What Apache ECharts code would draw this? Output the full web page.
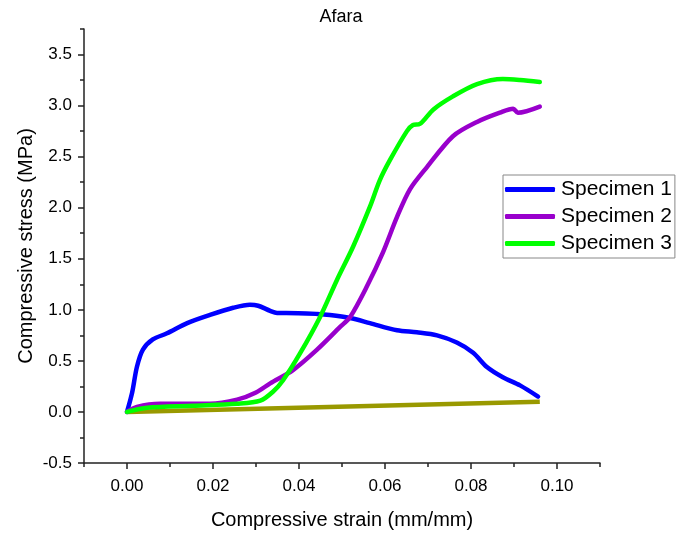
<!DOCTYPE html>
<html>
<head>
<meta charset="utf-8">
<script src="https://cdn.jsdelivr.net/npm/echarts@6/dist/echarts.min.js"></script>
<style>html,body{margin:0;padding:0;background:#fff}#c{width:682px;height:537px}</style>
</head>
<body>
<div id="c"></div>
<script>
var titleText = 'Afara';
var xName = 'Compressive strain (mm/mm)';
var yName = 'Compressive stress (MPa)';
var seriesNames = ['Specimen 1', 'Specimen 2', 'Specimen 3'];
var xMajorTicks = [0, 0.02, 0.04, 0.06, 0.08, 0.10];
var xMinorTicks = [-0.01, 0.01, 0.03, 0.05, 0.07, 0.09, 0.11];
var yMajorTicks = [-0.5, 0, 0.5, 1.0, 1.5, 2.0, 2.5, 3.0, 3.5];
var yMinorTicks = [-0.25, 0.25, 0.75, 1.25, 1.75, 2.25, 2.75, 3.25, 3.75];

var s1x = [0, 0.0012, 0.0023, 0.0037, 0.006, 0.0093, 0.014, 0.0193, 0.0247, 0.0286, 0.0305, 0.0333, 0.0349, 0.037, 0.0442, 0.0472, 0.0519, 0.0565, 0.0628, 0.0674, 0.0721, 0.0767, 0.0805, 0.0837, 0.0874, 0.0914, 0.0956];
var s1y = [0, 0.19, 0.44, 0.61, 0.71, 0.77, 0.87, 0.95, 1.02, 1.05, 1.04, 0.99, 0.97, 0.97, 0.96, 0.95, 0.92, 0.87, 0.80, 0.78, 0.75, 0.68, 0.58, 0.44, 0.34, 0.26, 0.15];

var s2x = [0, 0.0023, 0.0077, 0.0193, 0.0256, 0.030, 0.0333, 0.0386, 0.0442, 0.0495, 0.0519, 0.0558, 0.0595, 0.0628, 0.0658, 0.0698, 0.0758, 0.0814, 0.0867, 0.0898, 0.0909, 0.096];
var s2y = [0, 0.05, 0.08, 0.08, 0.12, 0.19, 0.28, 0.41, 0.61, 0.83, 0.93, 1.23, 1.56, 1.91, 2.18, 2.40, 2.70, 2.84, 2.93, 2.97, 2.93, 2.99];

var s3x = [0, 0.0047, 0.0153, 0.0256, 0.031, 0.034, 0.0363, 0.0402, 0.0449, 0.0488, 0.0526, 0.0565, 0.0588, 0.0612, 0.0651, 0.0665, 0.0681, 0.0712, 0.0758, 0.0814, 0.0874, 0.0914, 0.096];
var s3y = [0, 0.04, 0.06, 0.08, 0.11, 0.20, 0.31, 0.57, 0.93, 1.29, 1.62, 2.01, 2.27, 2.47, 2.75, 2.81, 2.82, 2.96, 3.09, 3.21, 3.26, 3.25, 3.23];

var baseX = [0, 0.096];
var baseY = [0, 0.10];

var colors = ['#0000ff', '#9900cc', '#00ff00'];
var baseColor = '#999900';

function pairs(xs, ys) { return xs.map(function (x, i) { return [x, ys[i]]; }); }

var FONT = 'Liberation Sans, Arial, sans-serif';
var chart = echarts.init(document.getElementById('c'), null, {renderer: 'canvas'});
var grid = {left: 84, right: 82, top: 29, bottom: 74, containLabel: false};
var tickStyle = {color: '#222', width: 1.5};

var option = {
  animation: false,
  backgroundColor: '#fff',
  title: {text: titleText, left: 'center', top: 3, textStyle: {fontFamily: FONT, fontSize: 18, fontWeight: 'normal', color: '#000'}},
  legend: {
    data: seriesNames.map(function (n) { return {name: n, icon: 'roundRect'}; }),
    orient: 'vertical', left: 503, top: 175,
    itemWidth: 50, itemHeight: 5, itemGap: 6,
    borderColor: '#888', borderWidth: 1, padding: [4, 3, 4, 2],
    textStyle: {fontFamily: FONT, fontSize: 21, color: '#000', padding: [0, 0, 0, 1]}
  },
  grid: grid,
  xAxis: [{
    type: 'value', min: -0.01, max: 0.11,
    name: xName, nameLocation: 'middle', nameGap: 47,
    nameTextStyle: {fontFamily: FONT, fontSize: 20, color: '#000'},
    axisLine: {show: true, onZero: false, lineStyle: tickStyle},
    axisTick: {show: true, inside: false, length: 6, customValues: xMajorTicks, lineStyle: tickStyle},
    axisLabel: {customValues: xMajorTicks, margin: 15, fontFamily: FONT, fontSize: 17, color: '#000',
      formatter: function (v) { return v.toFixed(2); }},
    splitLine: {show: false}
  }, {
    type: 'value', min: -0.01, max: 0.11, position: 'bottom',
    axisLine: {show: false, onZero: false},
    axisTick: {show: true, length: 4, customValues: xMinorTicks, lineStyle: tickStyle},
    axisLabel: {show: false}, splitLine: {show: false}
  }],
  yAxis: [{
    type: 'value', min: -0.5, max: 3.75,
    name: yName, nameLocation: 'middle', nameGap: 48, nameMoveOverlap: false,
    nameTextStyle: {fontFamily: FONT, fontSize: 20, color: '#000'},
    axisLine: {show: true, onZero: false, lineStyle: tickStyle},
    axisTick: {show: true, length: 6, customValues: yMajorTicks, lineStyle: tickStyle},
    axisLabel: {customValues: yMajorTicks, margin: 12, fontFamily: FONT, fontSize: 17, color: '#000',
      formatter: function (v) { return v.toFixed(1); }},
    splitLine: {show: false}
  }, {
    type: 'value', min: -0.5, max: 3.75, position: 'left',
    axisLine: {show: false, onZero: false},
    axisTick: {show: true, length: 4, customValues: yMinorTicks, lineStyle: tickStyle},
    axisLabel: {show: false}, splitLine: {show: false}
  }],
  series: [
    {name: 'base', type: 'line', data: pairs(baseX, baseY), showSymbol: false, symbol: 'none',
      lineStyle: {color: baseColor, width: 4.5}, itemStyle: {color: baseColor}, z: 1},
    {name: seriesNames[0], type: 'line', data: pairs(s1x, s1y), smooth: 0.3, symbol: 'none',
      lineStyle: {color: colors[0], width: 4.5, cap: 'round', join: 'round'}, itemStyle: {color: colors[0]}, z: 2},
    {name: seriesNames[1], type: 'line', data: pairs(s2x, s2y), smooth: 0.3, symbol: 'none',
      lineStyle: {color: colors[1], width: 4.5, cap: 'round', join: 'round'}, itemStyle: {color: colors[1]}, z: 3},
    {name: seriesNames[2], type: 'line', data: pairs(s3x, s3y), smooth: 0.3, symbol: 'none',
      lineStyle: {color: colors[2], width: 4.5, cap: 'round', join: 'round'}, itemStyle: {color: colors[2]}, z: 4}
  ]
};
chart.setOption(option);
</script>
</body>
</html>
